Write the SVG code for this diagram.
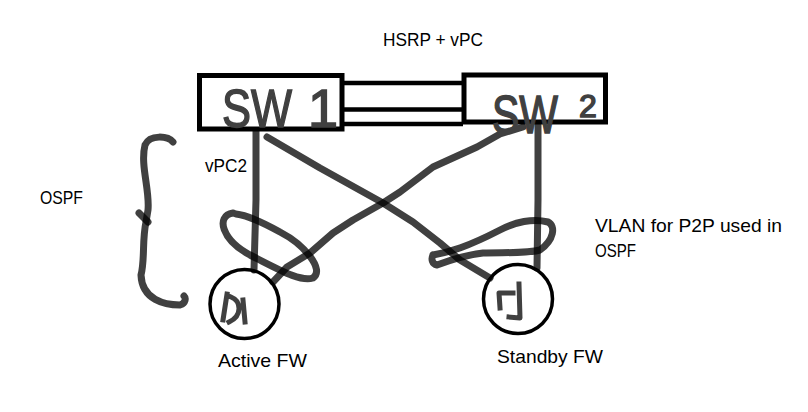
<svg xmlns="http://www.w3.org/2000/svg" width="808" height="412" viewBox="0 0 808 412">
<style>
.box{fill:none;stroke:#000;stroke-width:5}
.ring{fill:none;stroke:#000;stroke-width:3.5}
.link{stroke:#000;stroke-width:4.5}
.ink{fill:none;stroke:#000;stroke-opacity:0.75;stroke-width:7;stroke-linecap:round;stroke-linejoin:round}
.mark{fill:none;stroke:#000;stroke-opacity:0.75;stroke-width:5;stroke-linecap:square;stroke-linejoin:round}
.lbl{font-family:"Liberation Sans",Arial,sans-serif;font-size:19px;fill:#000}
.hand{font-family:"Liberation Sans",Arial,sans-serif;font-size:54px;fill:#404040;stroke:#404040;stroke-width:1.5}
.hand.sup{font-size:32px}
</style>
<rect width="808" height="412" fill="#fff"/>
<g id="connectors">
  <line class="link" x1="344" y1="83" x2="463" y2="83"/>
  <line class="link" x1="344" y1="109.5" x2="463" y2="109.5"/>
  <line class="link" x1="344" y1="124" x2="463" y2="124"/>
  <path class="ink" d="M256,131 L256,200 L254,270"/>
  <path class="ink" d="M538,125 L538,200 L537,268"/>
  <path class="ink" d="M267,137 L320,168 L383,203 L413,222 L440,243 L460,260 L490,278"/>
  <path class="ink" d="M523,127 L500,134 L477,147 L433,167 L400,192 L383,203 L353,220 L333,233 L310,253 L287,267 L273,282"/>
</g>
<g id="annotations">
  <path class="ink" d="M233,213 C215,216 222,240 250,255 C280,270 300,282 313,278 C325,270 305,245 280,232 C262,222 245,215 236,214"/>
  <path class="ink" d="M433,255 C450,252 467,247 500,230 C515,222 533,218 548,222 C556,226 554,240 540,250 C525,254 500,252 483,253 C465,255 445,262 437,265 C432,264 431,259 433,255"/>
  <path class="ink" d="M173,142 C168,136 150,134 145,145 C140,165 150,190 148,210 L146,222 C142,240 145,260 141,275 C142,300 165,305 180,305 C186,303 186,298 184,296"/>
  <path class="ink" d="M139,213 L148,222" stroke-width="9"/>
</g>
<g id="sw1">
  <rect class="box" x="199.5" y="75.5" width="142.5" height="53.5"/>
  <text class="hand" x="222" y="127" textLength="70" lengthAdjust="spacingAndGlyphs">SW</text>
  <text class="hand" x="308" y="127">1</text>
</g>
<g id="sw2">
  <rect class="box" x="464" y="75" width="141.5" height="47"/>
  <text class="hand" x="492" y="133" textLength="66" lengthAdjust="spacingAndGlyphs">SW</text>
  <text class="hand sup" x="579" y="117">2</text>
</g>
<g id="fw-active">
  <circle class="ring" cx="244.5" cy="304" r="34.5"/>
  <path class="mark" d="M227,294 L223,320 M231,297 C241,301 243,315 229,322 M243,300 L245,322"/>
  <text class="lbl" x="218" y="367" textLength="89" lengthAdjust="spacingAndGlyphs">Active FW</text>
</g>
<g id="fw-standby">
  <circle class="ring" cx="518" cy="299" r="34.5"/>
  <path class="mark" d="M513,293 L499,293 L500,308 M519,284 L520,318 L509,317"/>
  <text class="lbl" x="497" y="363" textLength="106" lengthAdjust="spacingAndGlyphs">Standby FW</text>
</g>
<g id="labels">
  <text class="lbl" x="383" y="46" textLength="100" lengthAdjust="spacingAndGlyphs">HSRP + vPC</text>
  <text class="lbl" x="205" y="172" textLength="42" lengthAdjust="spacingAndGlyphs">vPC2</text>
  <text class="lbl" x="40" y="204" textLength="43" lengthAdjust="spacingAndGlyphs">OSPF</text>
  <text class="lbl" x="595" y="232" textLength="187" lengthAdjust="spacingAndGlyphs">VLAN for P2P used in</text>
  <text class="lbl" x="595" y="257" textLength="41" lengthAdjust="spacingAndGlyphs">OSPF</text>
</g>
</svg>
